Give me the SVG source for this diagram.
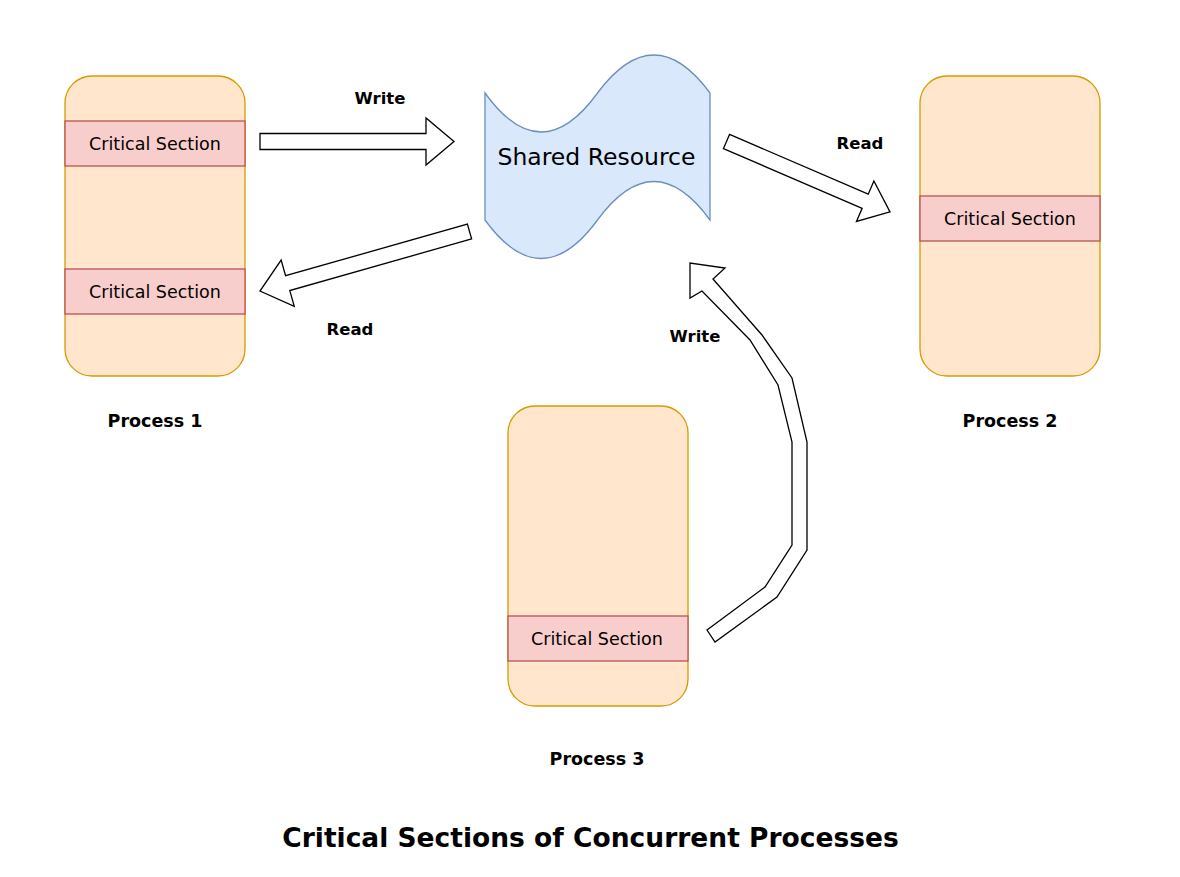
<svg xmlns="http://www.w3.org/2000/svg" width="1180" height="877" viewBox="0 0 1180 877">
<style>
.proc{fill:#ffe6cc;stroke:#d79b00;stroke-width:1.3}
.cs{fill:#f8cecc;stroke:#b85450;stroke-width:1.3}
.cst{font-family:"DejaVu Sans",sans-serif;font-size:17.5px;fill:#000;text-anchor:middle}
.lbl{font-family:"DejaVu Sans",sans-serif;font-weight:bold;font-size:16.5px;fill:#000;text-anchor:middle}
.plbl{font-family:"DejaVu Sans",sans-serif;font-weight:bold;font-size:17.5px;fill:#000;text-anchor:middle}
.arr{fill:#fff;stroke:#000;stroke-width:1.3;stroke-linejoin:miter}
</style>
<rect width="1180" height="877" fill="#fff"/>
<g id="process1">
<rect class="proc" x="65" y="76" width="180" height="300" rx="27"/>
<rect class="cs" x="65" y="121" width="180" height="45"/>
<text class="cst" x="155" y="150">Critical Section</text>
<rect class="cs" x="65" y="269" width="180" height="45"/>
<text class="cst" x="155" y="298">Critical Section</text>
<text class="plbl" x="155" y="426.5">Process 1</text>
</g>
<g id="process2">
<rect class="proc" x="920" y="76" width="180" height="300" rx="27"/>
<rect class="cs" x="920" y="196" width="180" height="45"/>
<text class="cst" x="1010" y="225">Critical Section</text>
<text class="plbl" x="1010" y="426.5">Process 2</text>
</g>
<g id="process3">
<rect class="proc" x="508" y="406" width="180" height="300" rx="27"/>
<rect class="cs" x="508" y="616" width="180" height="45"/>
<text class="cst" x="597" y="645">Critical Section</text>
<text class="plbl" x="597" y="764.5">Process 3</text>
</g>
<g id="shared-resource">
<path d="M485,93 Q541,171 597.5,93 Q654,17 710,93 L710,220 Q654,143 597.5,220 Q541,297 485,220 Z" fill="#dae8fc" stroke="#6c8ebf" stroke-width="1.3"/>
<text x="596.5" y="165" font-family="DejaVu Sans, sans-serif" font-size="23.5" text-anchor="middle" fill="#000">Shared Resource</text>
</g>
<g id="connectors">
<polygon class="arr" points="260,133.5 426,133.5 426,118 454,141.5 426,165 426,149.5 260,149.5"/>
<polygon class="arr" transform="translate(469.5,231.5) rotate(164.14)" points="0,-7.7 189,-7.7 189,-24 217.8,0 189,24 189,7.7 0,7.7"/>
<polygon class="arr" transform="translate(726.5,141.5) rotate(23.3)" points="0,-7.7 151,-7.7 151,-22 178,0 151,22 151,7.7 0,7.7"/>
<polygon class="arr" points="707,630 765,587 792,545 792,442 778,385 750,340 702,291 690,298 690,263 725,268 713,279 762,335 792,378 807,442 807,550 777,597 715,642"/>
<text class="lbl" x="380" y="103.5">Write</text>
<text class="lbl" x="860" y="149">Read</text>
<text class="lbl" x="350" y="334.5">Read</text>
<text class="lbl" x="695" y="342">Write</text>
</g>
<text x="590.5" y="847" font-family="DejaVu Sans, sans-serif" font-weight="bold" font-size="26.5" text-anchor="middle" fill="#000">Critical Sections of Concurrent Processes</text>
</svg>
